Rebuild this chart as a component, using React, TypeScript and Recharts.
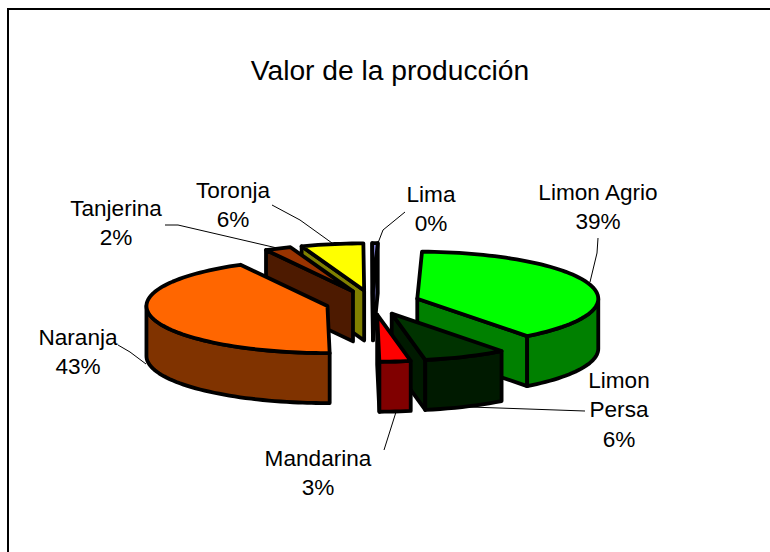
import { PieChart, Pie } from 'recharts';

const names = ['Limon Agrio', 'Limon Persa', 'Mandarina', 'Naranja', 'Tanjerina', 'Toronja', 'Lima'];
const values = [39, 6, 3, 43, 2, 6, 0.49];
const topColors = ['#00FF00', '#003300', '#FF0000', '#FF6600', '#993300', '#FFFF00', '#9999FF'];
const sideColors = ['#008000', '#001A00', '#800000', '#803300', '#4D1A00', '#808000', '#4D4D80'];

// back slices first, so nearer ones cover them
const drawOrder = ['Lima', 'Toronja', 'Tanjerina', 'Naranja', 'Limon Agrio', 'Limon Persa', 'Mandarina'];

const data = names.map((name, i) => ({ name, value: values[i], fill: topColors[i], side: sideColors[i] }));

// fake 3D settings
const SQUASH = 0.26; // ry / rx
const DEPTH = 50;
const EXPLODE = 0.26;

// excel squeezes the front of the pie a bit, [real angle, drawn angle]
const warpStops = [
  [0, 0],
  [143, 143],
  [164.4, 169.4],
  [175.3, 179.4],
  [190, 190],
  [331, 331.5],
  [338.2, 340],
  [360, 360],
  [400, 400],
];

const warp = (deg: number) => {
  for (let i = 1; i < warpStops.length; i++) {
    const [a0, b0] = warpStops[i - 1];
    const [a1, b1] = warpStops[i];
    if (deg <= a1) return b0 + ((deg - a0) / (a1 - a0)) * (b1 - b0);
  }
  return deg;
};

// label spots and leader lines
const labelSpots: Record<string, { x: number; y: number; wrap?: boolean }> = {
  'Limon Agrio': { x: 598, y: 192 },
  'Limon Persa': { x: 619, y: 380, wrap: true },
  Mandarina: { x: 318, y: 458 },
  Naranja: { x: 78, y: 337 },
  Tanjerina: { x: 116, y: 208 },
  Toronja: { x: 233, y: 190 },
  Lima: { x: 431, y: 194 },
};

const leaders: Record<string, string> = {
  'Limon Agrio': '598,238 597,253 590,282',
  'Limon Persa': '585,411 470,407',
  Mandarina: '396,412 384,450',
  Naranja: '118,345 130,352 146,364',
  Tanjerina: '165,225 178,225 277,248',
  Toronja: '272,205 300,220 332,243',
  Lima: '405,212 383,230 378,243',
};

const Slice = (props: any) => {
  const { cx, cy, outerRadius, startAngle, endAngle, fill, side } = props;
  const a0 = 90 - startAngle;
  const a1 = 90 - endAngle;
  const mid = warp((a0 + a1) / 2);
  const ox = cx + outerRadius * EXPLODE * Math.sin((mid * Math.PI) / 180);
  const oy = cy - outerRadius * EXPLODE * SQUASH * Math.cos((mid * Math.PI) / 180);

  const pt = (deg: number, r: number, drop = 0) => {
    const t = (warp(deg) * Math.PI) / 180;
    return [ox + r * Math.sin(t), oy - r * SQUASH * Math.cos(t) + drop];
  };
  const arc = (from: number, to: number, drop = 0) => {
    const pts = [];
    const n = Math.max(2, Math.ceil((to - from) / 2));
    for (let i = 0; i <= n; i++) pts.push(pt(from + ((to - from) * i) / n, outerRadius, drop));
    return pts;
  };
  const poly = (pts: number[][]) => pts.map((p) => p.join(',')).join(' ');
  const style = { stroke: '#000', strokeWidth: 3.8, strokeLinejoin: 'round' as const };

  const apex = pt(a0, 0);
  const s = pt(a0, outerRadius);
  const e = pt(a1, outerRadius);
  const faces = [];
  // a cut face only shows when its edge runs the right way on screen
  if (s[0] < apex[0]) faces.push([apex, s, [s[0], s[1] + DEPTH], [apex[0], apex[1] + DEPTH]]);
  if (apex[0] < e[0]) faces.push([e, apex, [apex[0], apex[1] + DEPTH], [e[0], e[1] + DEPTH]]);

  // outer wall, front half only
  const rimFrom = Math.max(a0, 90);
  const rimTo = Math.min(a1, 270);
  const rim = rimTo > rimFrom ? [...arc(rimFrom, rimTo), ...arc(rimFrom, rimTo, DEPTH).reverse()] : null;

  return (
    <g>
      {faces.map((f, i) => (
        <polygon key={i} points={poly(f)} fill={side} {...style} />
      ))}
      {rim && <polygon points={poly(rim)} fill={side} {...style} />}
      <polygon points={poly([apex, ...arc(a0, a1)])} fill={fill} {...style} />
    </g>
  );
};

const renderLabel = (props: any) => {
  const { name, percent } = props;
  const spot = labelSpots[name];
  const lines = spot.wrap ? name.split(' ') : [name];
  lines.push(`${Math.round(percent * 100)}%`);
  return (
    <g key={name}>
      <polyline points={leaders[name]} fill="none" stroke="#000" strokeWidth={1} />
      {lines.map((line: string, i: number) => (
        <text
          key={i}
          x={spot.x}
          y={spot.y + i * 29.5}
          textAnchor="middle"
          dominantBaseline="central"
          fontFamily="Liberation Sans"
          fontSize={22.6}
          fill="#000"
        >
          {line}
        </text>
      ))}
    </g>
  );
};

export default function App() {
  return (
    <div style={{ position: 'absolute', left: 0, top: 0, width: 770, height: 552, overflow: 'hidden', background: '#fff' }}>
      <div style={{ position: 'absolute', left: 7, top: 8, right: 0, bottom: 0, borderTop: '2px solid #000', borderLeft: '2px solid #000' }} />
      <PieChart width={770} height={552} margin={{ top: 0, right: 0, bottom: 0, left: 0 }} style={{ position: 'absolute', left: 0, top: 0 }}>
        <text x={390} y={70} textAnchor="middle" dominantBaseline="central" fontFamily="Liberation Sans" fontSize={28.2} fill="#000">
          Valor de la producción
        </text>
        {drawOrder.map((layer, i) => (
          <Pie
            key={layer}
            data={data}
            dataKey="value"
            nameKey="name"
            cx={372.5}
            cy={302.5}
            outerRadius={181}
            startAngle={88.5}
            endAngle={-271.5}
            stroke="none"
            isAnimationActive={false}
            shape={(p: any) => (p.name === layer ? <Slice {...p} /> : <g />)}
            label={i === drawOrder.length - 1 ? renderLabel : false}
            labelLine={false}
          />
        ))}
      </PieChart>
    </div>
  );
}
